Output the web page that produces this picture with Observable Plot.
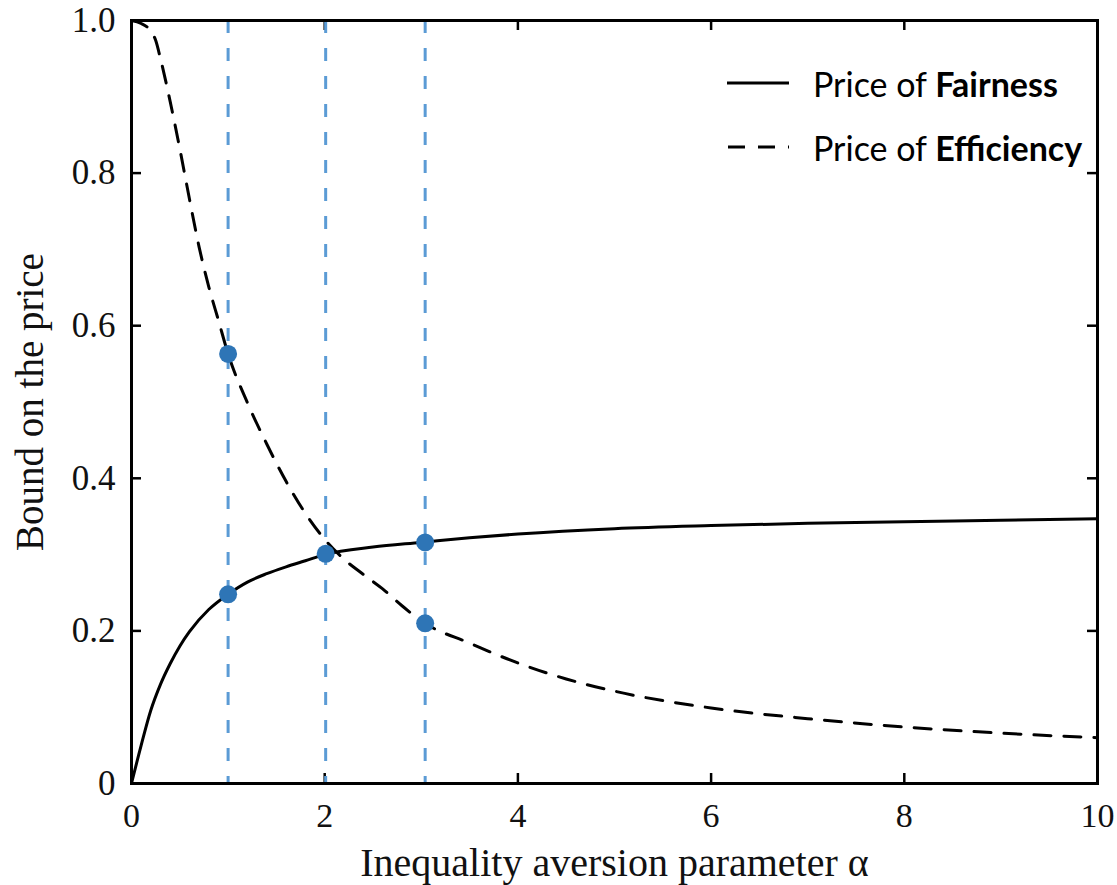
<!DOCTYPE html>
<html>
<head>
<meta charset="utf-8">
<script src="https://cdn.jsdelivr.net/npm/d3@7"></script>
<script src="https://cdn.jsdelivr.net/npm/@observablehq/plot@0.6"></script>
<style>
  html, body { margin: 0; padding: 0; background: #fff; }
  #wrap { position: relative; width: 1117px; height: 885px; }
  #legend { position: absolute; left: 727px; top: 51px; font-family: "Lato", "Liberation Sans", sans-serif; font-size: 34px; color: #000; }
  .row { display: flex; align-items: center; height: 64px; }
  .row svg { width: 70px; height: 10px; margin-right: 16px; }
  .row b { font-weight: 700; }
</style>
</head>
<body>
<div id="wrap"></div>
<script>
// ---- data ----
const fairAlpha = [0, 0.1, 0.2, 0.3, 0.4, 0.5, 0.6, 0.8, 1.0, 1.2, 1.4, 1.6, 1.8, 2.0, 2.5, 3.0, 3.5, 4.0, 5.0, 6.0, 7.0, 8.0, 9.0, 10.0];
const fairValue = [0, 0.05, 0.096, 0.13, 0.157, 0.18, 0.199, 0.228, 0.248, 0.264, 0.275, 0.284, 0.292, 0.300, 0.310, 0.316, 0.322, 0.327, 0.334, 0.338, 0.341, 0.343, 0.345, 0.347];

const effAlpha = [0, 0.1, 0.2, 0.25, 0.3, 0.4, 0.5, 0.6, 0.7, 0.8, 0.9, 1.0, 1.2, 1.4, 1.6, 1.8, 2.0, 2.2, 2.4, 2.6, 2.8, 3.0, 3.5, 4.0, 4.5, 5.0, 6.0, 7.0, 8.0, 9.0, 10.0];
const effValue = [1.0, 0.996, 0.986, 0.974, 0.950, 0.894, 0.832, 0.766, 0.703, 0.651, 0.607, 0.563, 0.499, 0.445, 0.396, 0.354, 0.320, 0.294, 0.274, 0.255, 0.233, 0.213, 0.184, 0.158, 0.137, 0.121, 0.099, 0.085, 0.074, 0.066, 0.060];

const markAlpha = [1, 2.01, 3.04];
const dotAlpha = [1, 2.01, 3.04, 1, 3.04];
const dotValue = [0.248, 0.301, 0.316, 0.563, 0.210];

const xTicks = [0, 2, 4, 6, 8, 10];
const yTicks = [0, 0.2, 0.4, 0.6, 0.8, 1.0];
const xInnerTicks = [2, 4, 6, 8];
const yInnerTicks = [0.2, 0.4, 0.6, 0.8];

const xLabel = "Inequality aversion parameter \u03B1";
const yLabel = "Bound on the price";
const legendNames = ["Fairness", "Efficiency"];

// ---- build ----
const W = 1117, H = 885;
const mL = 131, mR = 20, mT = 20, mB = 102;
const pw = W - mL - mR, ph = H - mT - mB;

const fair = fairAlpha.map((a, i) => ({a, v: fairValue[i]}));
const eff = effAlpha.map((a, i) => ({a, v: effValue[i]}));
const dots = dotAlpha.map((a, i) => ({a, v: dotValue[i]}));

const serif = "'Liberation Serif', 'DejaVu Serif', serif";

const chart = Plot.plot({
  width: W, height: H,
  marginLeft: mL, marginRight: mR, marginTop: mT, marginBottom: mB,
  style: {fontFamily: serif, fontSize: "34px", color: "#111", background: "#fff"},
  x: {domain: [0, 10]},
  y: {domain: [0, 1]},
  marks: [
    Plot.axisX({ticks: xTicks, tickSize: 0, tickPadding: 19, tickFormat: d => String(d), label: null, fontSize: 34, fontFamily: serif}),
    Plot.axisY({ticks: yTicks, tickSize: 0, tickPadding: 16, tickFormat: d => d === 0 ? "0" : d.toFixed(1), label: null, fontSize: 35, fontFamily: serif}),
    // inward ticks on all four sides
    Plot.tickX(xInnerTicks, {x: d => d, insetTop: ph - 10, stroke: "black", strokeWidth: 2.5}),
    Plot.tickX(xInnerTicks, {x: d => d, insetBottom: ph - 10, stroke: "black", strokeWidth: 2.5}),
    Plot.tickY(yInnerTicks, {y: d => d, insetRight: pw - 10, stroke: "black", strokeWidth: 2.5}),
    Plot.tickY(yInnerTicks, {y: d => d, insetLeft: pw - 10, stroke: "black", strokeWidth: 2.5}),
    Plot.line(fair, {x: "a", y: "v", stroke: "black", strokeWidth: 3, curve: "monotone-x"}),
    Plot.line(eff, {x: "a", y: "v", stroke: "black", strokeWidth: 3, strokeDasharray: "17,13", curve: "monotone-x"}),
    Plot.ruleX(markAlpha, {x: d => d, stroke: "#5b9bd5", strokeWidth: 3, strokeDasharray: "13,15"}),
    Plot.dot(dots, {x: "a", y: "v", r: 9, fill: "#2e75b6", stroke: "none"}),
    Plot.frame({stroke: "black", strokeWidth: 3}),
    Plot.text([xLabel], {text: d => d, frameAnchor: "bottom", dy: 92, fontSize: 40, fontFamily: serif, fill: "#111"}),
    Plot.text([yLabel], {text: d => d, frameAnchor: "left", textAnchor: "middle", dx: -101, rotate: -90, fontSize: 39, fontFamily: serif, fill: "#111"})
  ]
});

const wrap = document.getElementById("wrap");
wrap.appendChild(chart);

// legend overlay (inside plot area, top right)
const legend = document.createElement("div");
legend.id = "legend";
legend.innerHTML = `
  <div class="row"><svg><line x1="0" y1="5" x2="62" y2="5" stroke="black" stroke-width="3"/></svg><span>Price of <b>${legendNames[0]}</b></span></div>
  <div class="row"><svg><line x1="1" y1="5" x2="62" y2="5" stroke="black" stroke-width="3" stroke-dasharray="17,13"/></svg><span>Price of <b>${legendNames[1]}</b></span></div>`;
wrap.appendChild(legend);
</script>
</body>
</html>
